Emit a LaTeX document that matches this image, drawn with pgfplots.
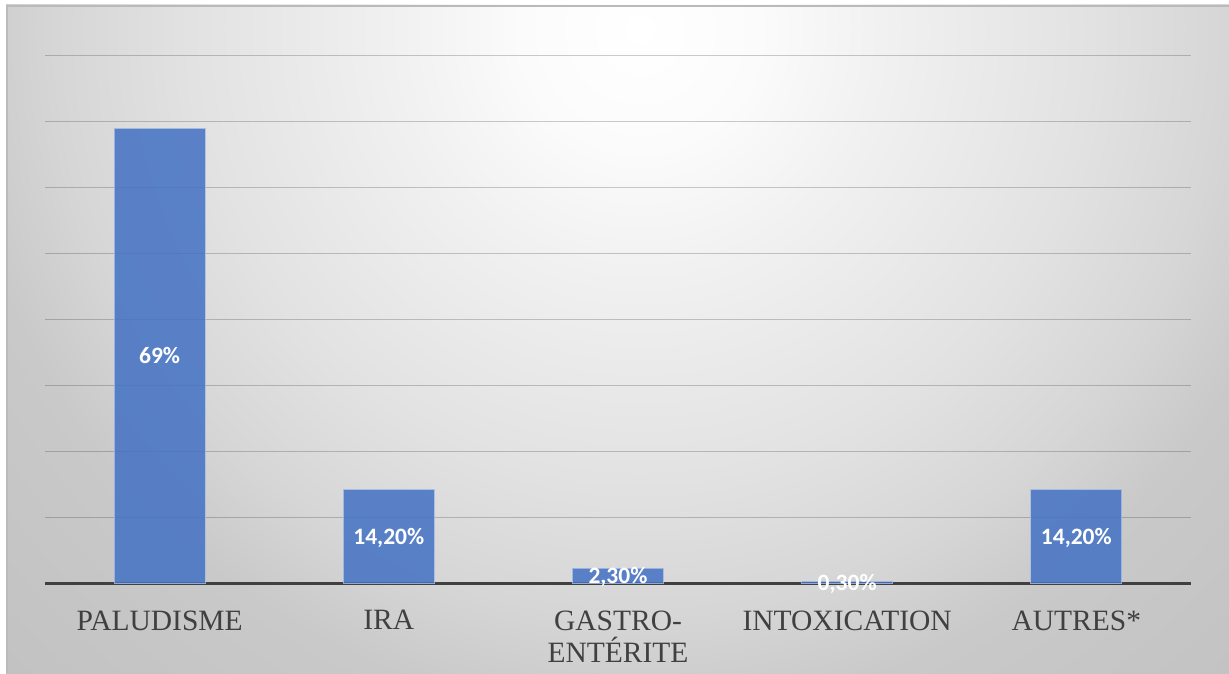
\documentclass[border=0pt]{standalone}
\usepackage{fontspec}
\setmainfont{Liberation Serif}
\newfontfamily\valuefont{Carlito}
\usepackage{pgfplots}
\pgfplotsset{compat=1.18}

% background tones, from the bright spot near the top outwards
\definecolor{bg0}{HTML}{FFFFFF}
\definecolor{bg1}{HTML}{FBFBFB}
\definecolor{bg2}{HTML}{F1F1F1}
\definecolor{bg3}{HTML}{E2E2E2}
\definecolor{bg4}{HTML}{D6D6D6}
\definecolor{bg5}{HTML}{C9C9C9}
\definecolor{bg6}{HTML}{C2C2C2}
\definecolor{barblue}{HTML}{4472C4}
\definecolor{axisgray}{HTML}{404040}
\definecolor{framegray}{HTML}{BABABA}

% 1bp of the shading = 40pt of the picture (square of 2000pt)
\pgfdeclareradialshading{chartbg}{\pgfpoint{0bp}{0bp}}{%
  color(0bp)=(bg0); color(3bp)=(bg1); color(6bp)=(bg2);
  color(11.25bp)=(bg3); color(14.6bp)=(bg4); color(17.2bp)=(bg5);
  color(22.5bp)=(bg6); color(50bp)=(bg6)}

\begin{document}
\begin{tikzpicture}[x=1pt,y=1pt]
  \path[use as bounding box] (0pt,0pt) rectangle (1229pt,673pt);
  \fill[white] (0pt,0pt) rectangle (1229pt,673pt);
  \begin{scope}
    \clip (6pt,0pt) rectangle (1229pt,668pt);
    \shade[shading=chartbg] (-360pt,-357pt) rectangle (1640pt,1643pt);
  \end{scope}
  \draw[framegray, line width=1.6pt] (6.8pt,0pt) -- (6.8pt,667.2pt) -- (1229pt,667.2pt);

  \begin{axis}[
    at={(45pt,89.7pt)}, anchor=south west,
    scale only axis, width=1146pt, height=527.6pt,
    xmin=-0.5, xmax=4.5, ymin=0, ymax=80,
    axis x line=bottom, axis y line=left,
    x axis line style={-, draw=axisgray, line width=3.3pt},
    y axis line style={draw=none},
    ytick={10,20,...,80}, yticklabels={},
    ymajorgrids, grid style={black, opacity=0.2, line width=1.4pt},
    xtick={0,1,2,3,4},
    xticklabels={PALUDISME, IRA, {GASTRO-\\ENTÉRITE}, INTOXICATION, AUTRES*},
    xticklabel style={anchor=north, align=center, inner sep=0pt, yshift=-27pt,
      text=axisgray, font=\fontsize{29.5}{32}\selectfont},
    major tick length=0pt,
    ybar, bar width=91pt,
    clip=false,
  ]
    \addplot[
      fill=barblue, fill opacity=0.86,
      draw=white!55!barblue, draw opacity=0.8, line width=0.9pt,
      point meta=explicit symbolic,
      visualization depends on=y \as \rawy,
      nodes near coords,
      nodes near coords style={anchor=center, inner sep=0pt, text depth=0pt,
        text=white, opacity=1, text opacity=1,
        font=\valuefont\bfseries\fontsize{23.5}{26}\selectfont,
        yshift={-0.5*\rawy*6.595pt}},
    ] coordinates {
      (0,69)   [69\%]
      (1,14.2) [14,20\%]
      (2,2.3)  [2,30\%]
      (3,0.3)  [0,30\%]
      (4,14.2) [14,20\%]
    };
  \end{axis}
\end{tikzpicture}
\end{document}
